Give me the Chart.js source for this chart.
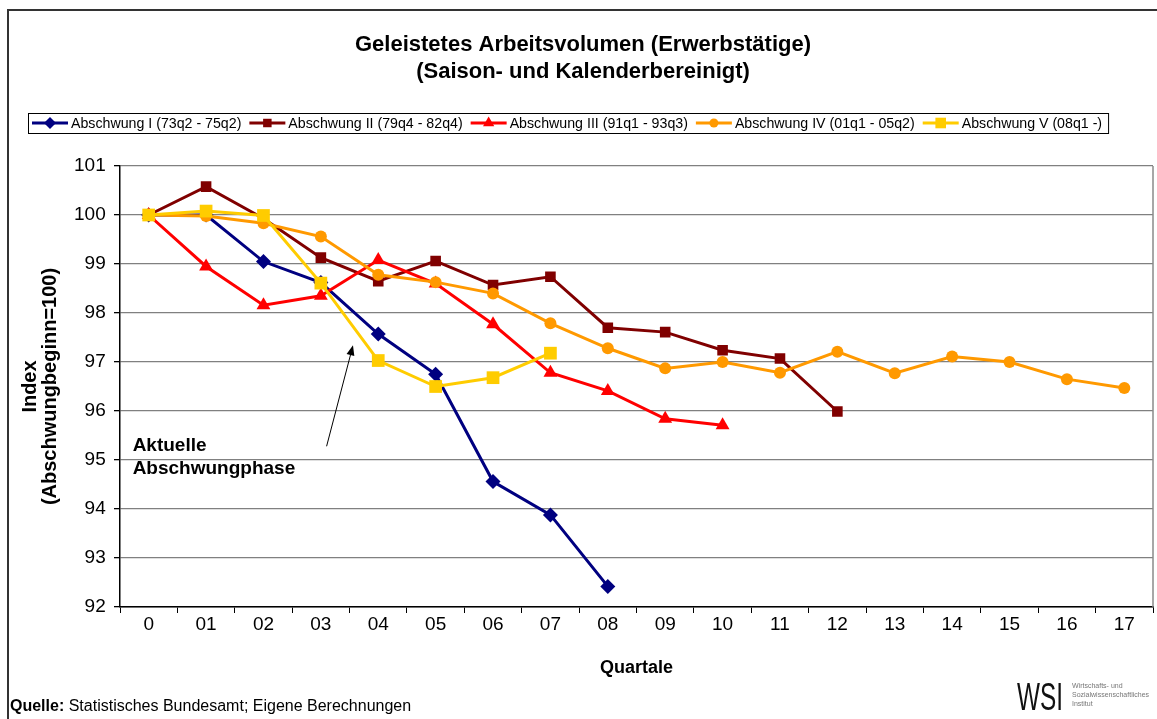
<!DOCTYPE html>
<html>
<head>
<meta charset="utf-8">
<script src="https://cdn.jsdelivr.net/npm/chart.js"></script>
<style>
  html, body { margin: 0; padding: 0; background: #fff; }
</style>
</head>
<body>
<canvas id="chart" width="1157" height="719"></canvas>
<script>
const FONT = "'Liberation Sans', Arial, sans-serif";

// Data
const quarters = ['0', '01', '02', '03', '04', '05', '06', '07', '08', '09', '10', '11', '12', '13', '14', '15', '16', '17'];
const seriesNames = [
  'Abschwung I (73q2 - 75q2)',
  'Abschwung II (79q4 - 82q4)',
  'Abschwung III (91q1 - 93q3)',
  'Abschwung IV (01q1 - 05q2)',
  'Abschwung V (08q1 -)'
];
const abschwungI = [100, 100.0, 99.05, 98.62, 97.57, 96.75, 94.56, 93.88, 92.42];
const abschwungII = [100, 100.58, 99.93, 99.13, 98.65, 99.06, 98.57, 98.74, 97.70, 97.61, 97.24, 97.07, 95.99];
const abschwungIII = [100, 98.95, 98.16, 98.35, 99.08, 98.60, 97.77, 96.78, 96.41, 95.84, 95.71];
const abschwungIV = [100, 99.98, 99.83, 99.56, 98.78, 98.63, 98.40, 97.79, 97.28, 96.87, 97.00, 96.78, 97.21, 96.77, 97.11, 97.00, 96.65, 96.47];
const abschwungV = [100, 100.08, 99.99, 98.61, 97.03, 96.50, 96.68, 97.18];
const yMin = 92;
const yMax = 101;

const colors = ['#000080', '#800000', '#FF0000', '#FF9900', '#FFCC00'];
const markers = ['rectRot', 'rect', 'triangle', 'circle', 'rect'];
const markerSizes = [7.5, 7.5, 8, 6, 9];

const allSeries = [abschwungI, abschwungII, abschwungIII, abschwungIV, abschwungV];

const datasets = allSeries.map((values, i) => ({
  label: seriesNames[i],
  data: values,
  borderColor: colors[i],
  backgroundColor: colors[i],
  borderWidth: 3,
  pointStyle: markers[i],
  pointRadius: markerSizes[i],
  pointBorderWidth: 0,
  pointHoverRadius: markerSizes[i],
  tension: 0,
  order: 5 - i
}));

// stretch plot area to the right edge like the original
const plotRight = {
  id: 'plotRight',
  afterLayout(chart) {
    try {
      const area = chart.chartArea;
      const x = chart.scales.x;
      if (area.right < 1153) {
        area.right = 1153;
        area.width = area.right - area.left;
        x.right = 1153;
        x.width = x.right - x.left;
        x.configure();
      }
    } catch (e) {}
  }
};

// Title, legend, notes, frame
const decorations = {
  id: 'decorations',
  afterDraw(chart) {
    const ctx = chart.ctx;
    const area = chart.chartArea;
    const x = chart.scales.x;
    const y = chart.scales.y;
    ctx.save();

    // outer frame
    ctx.strokeStyle = '#333';
    ctx.lineWidth = 2;
    ctx.beginPath();
    ctx.moveTo(8, 719);
    ctx.lineTo(8, 10);
    ctx.lineTo(1157, 10);
    ctx.stroke();

    // plot area right border
    ctx.strokeStyle = '#8a8a8a';
    ctx.lineWidth = 1.5;
    ctx.beginPath();
    ctx.moveTo(area.right, area.top);
    ctx.lineTo(area.right, area.bottom);
    ctx.stroke();

    // title
    ctx.fillStyle = '#000';
    ctx.textAlign = 'center';
    ctx.textBaseline = 'middle';
    ctx.font = 'bold 22px ' + FONT;
    ctx.fillText('Geleistetes Arbeitsvolumen (Erwerbstätige)', 583, 45);
    ctx.fillText('(Saison- und Kalenderbereinigt)', 583, 72);

    // legend
    ctx.font = '14.2px ' + FONT;
    ctx.textAlign = 'left';
    const boxLeft = 28, boxTop = 113, boxH = 20;
    let cx = boxLeft + 4;
    const cy = boxTop + boxH / 2;
    seriesNames.forEach((name, i) => {
      ctx.strokeStyle = colors[i];
      ctx.lineWidth = 3;
      ctx.beginPath();
      ctx.moveTo(cx, cy);
      ctx.lineTo(cx + 36, cy);
      ctx.stroke();
      ctx.fillStyle = colors[i];
      Chart.helpers.drawPoint(ctx, {pointStyle: markers[i], radius: markerSizes[i] - 1.5, rotation: 0, borderWidth: 0}, cx + 18, cy);
      ctx.fillStyle = '#000';
      ctx.fillText(name, cx + 39, cy + 1);
      cx += 39 + ctx.measureText(name).width + 8;
    });
    ctx.strokeStyle = '#000';
    ctx.lineWidth = 1;
    ctx.strokeRect(boxLeft + 0.5, boxTop + 0.5, cx - boxLeft - 2, boxH);

    // annotation
    ctx.font = 'bold 19px ' + FONT;
    ctx.fillStyle = '#000';
    ctx.fillText('Aktuelle', x.getPixelForValue(-0.28), y.getPixelForValue(95.3));
    ctx.fillText('Abschwungphase', x.getPixelForValue(-0.28), y.getPixelForValue(94.83));

    const ax0 = x.getPixelForValue(3.10), ay0 = y.getPixelForValue(95.28);
    const ax1 = x.getPixelForValue(3.56), ay1 = y.getPixelForValue(97.34);
    const ang = Math.atan2(ay1 - ay0, ax1 - ax0);
    ctx.strokeStyle = '#000';
    ctx.lineWidth = 1;
    ctx.beginPath();
    ctx.moveTo(ax0, ay0);
    ctx.lineTo(ax1 - 6 * Math.cos(ang), ay1 - 6 * Math.sin(ang));
    ctx.stroke();
    ctx.beginPath();
    ctx.moveTo(ax1, ay1);
    ctx.lineTo(ax1 - 10 * Math.cos(ang) + 4 * Math.sin(ang), ay1 - 10 * Math.sin(ang) - 4 * Math.cos(ang));
    ctx.lineTo(ax1 - 10 * Math.cos(ang) - 4 * Math.sin(ang), ay1 - 10 * Math.sin(ang) + 4 * Math.cos(ang));
    ctx.closePath();
    ctx.fill();

    // source
    ctx.font = 'bold 16px ' + FONT;
    ctx.textBaseline = 'alphabetic';
    ctx.fillText('Quelle:', 10, 711);
    const w = ctx.measureText('Quelle:').width;
    ctx.font = '16px ' + FONT;
    ctx.fillText(' Statistisches Bundesamt; Eigene Berechnungen', 10 + w, 711);

    // WSI logo
    ctx.save();
    ctx.font = '38px ' + FONT;
    const ww = ctx.measureText('WSI').width;
    ctx.translate(1017, 710);
    ctx.scale(46 / ww, 1);
    ctx.fillStyle = '#111';
    ctx.fillText('WSI', 0, 0);
    ctx.restore();
    ctx.font = '7px ' + FONT;
    ctx.fillStyle = '#777';
    ctx.fillText('Wirtschafts- und', 1072, 688);
    ctx.fillText('Sozialwissenschaftliches', 1072, 697);
    ctx.fillText('Institut', 1072, 706);

    ctx.restore();
  }
};

new Chart(document.getElementById('chart'), {
  type: 'line',
  data: {
    labels: quarters,
    datasets: datasets
  },
  options: {
    responsive: false,
    animation: false,
    devicePixelRatio: 1,
    layout: {
      padding: { top: 166, left: 8, right: 0, bottom: 0 }
    },
    plugins: {
      legend: { display: false },
      title: { display: false },
      tooltip: { enabled: false }
    },
    scales: {
      x: {
        offset: true,
        afterFit(scale) {
          scale.height = 112;
          scale.paddingLeft = 0;
          scale.paddingRight = 0;
        },
        grid: {
          offset: true,
          drawOnChartArea: false,
          drawTicks: true,
          tickLength: 6,
          color: '#000'
        },
        border: { color: '#000', width: 1.5 },
        ticks: {
          color: '#000',
          font: { family: FONT, size: 19 },
          padding: 0,
          maxRotation: 0,
          autoSkip: false
        },
        title: {
          display: true,
          text: 'Quartale',
          color: '#000',
          font: { family: FONT, size: 18, weight: 'bold' },
          padding: { top: 0, bottom: 40 }
        }
      },
      y: {
        min: yMin,
        max: yMax,
        afterFit(scale) {
          scale.width = 112;
          scale.paddingTop = 0;
          scale.paddingBottom = 0;
        },
        ticks: {
          stepSize: 1,
          color: '#000',
          font: { family: FONT, size: 19 },
          padding: 3,
          callback: (value) => value + ' '
        },
        grid: {
          color: '#808080',
          lineWidth: 1.3,
          tickLength: 6,
          tickColor: '#000'
        },
        border: { color: '#000', width: 1.5 },
        title: {
          display: true,
          text: ['Index', '(Abschwungbeginn=100)'],
          color: '#000',
          font: { family: FONT, size: 20, weight: 'bold', lineHeight: 1.0 },
          padding: { top: 12, bottom: 0 }
        }
      }
    }
  },
  plugins: [plotRight, decorations]
});
</script>
</body>
</html>
